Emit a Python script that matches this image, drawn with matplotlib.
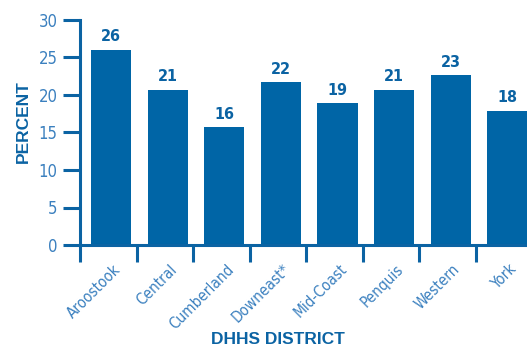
import matplotlib
matplotlib.use("Agg")
import matplotlib.pyplot as plt
import numpy as np

# Percent by DHHS district
districts = ["Aroostook", "Central", "Cumberland", "Downeast*", "Mid-Coast",
             "Penquis", "Western", "York"]
percent = [26.0, 20.7, 15.7, 21.7, 18.9, 20.7, 22.6, 17.9]
yticks = [0, 5, 10, 15, 20, 25, 30]

BAR = "#0065a6"
AXIS = "#0b63a3"
TICKTXT = "#3b80bf"

# condensed face for ticks and value labels
narrow = dict(family="DejaVu Sans", stretch="condensed")

fig = plt.figure(figsize=(5.27, 3.47), dpi=100)
ax = fig.add_axes([80 / 527, 102 / 347, 447 / 527, 225 / 347])

x = np.arange(len(districts))
ax.bar(x + 0.05, percent, width=0.71, color=BAR, zorder=2)

for xi, v in zip(x, percent):
    ax.annotate(f"{v:.0f}", (xi + 0.05, v), xytext=(0, 4), textcoords="offset points",
                ha="center", va="bottom", fontsize=11.5, fontweight="bold",
                color=AXIS, **narrow)

ax.set_xlim(-0.5, 7.4)
ax.set_ylim(0, 30)

# y axis
ax.set_yticks(yticks)
ax.set_yticklabels([str(t) for t in yticks], fontsize=12, color=TICKTXT, **narrow)
ax.tick_params(axis="y", length=12, width=2.2, color=AXIS, pad=4)

# x axis: ticks sit between bars, labels under bar centres
ax.set_xticks(np.arange(-0.5, 7.5, 1.0))
ax.set_xticklabels([])
ax.tick_params(axis="x", length=12, width=2.2, color=AXIS)
ax.set_xticks(x + 0.08, minor=True)
ax.set_xticklabels(districts, minor=True, rotation=45, ha="right",
                   rotation_mode="anchor", fontsize=11, color=TICKTXT, **narrow)
ax.tick_params(axis="x", which="minor", length=0, pad=12)

for side in ("top", "right"):
    ax.spines[side].set_visible(False)
for side in ("left", "bottom"):
    ax.spines[side].set_color(AXIS)
    ax.spines[side].set_linewidth(2.2)

fig.text(23 / 527, 1 - 122 / 347, "PERCENT", rotation=90, ha="center", va="center",
         fontsize=12.5, fontweight="bold", color=AXIS, family=["Liberation Sans", "DejaVu Sans"])
fig.text(278 / 527, 1 - 340 / 347, "DHHS DISTRICT", ha="center", va="center",
         fontsize=12.5, fontweight="bold", color=AXIS, family=["Liberation Sans", "DejaVu Sans"])

fig.savefig("out.png", dpi=100)
